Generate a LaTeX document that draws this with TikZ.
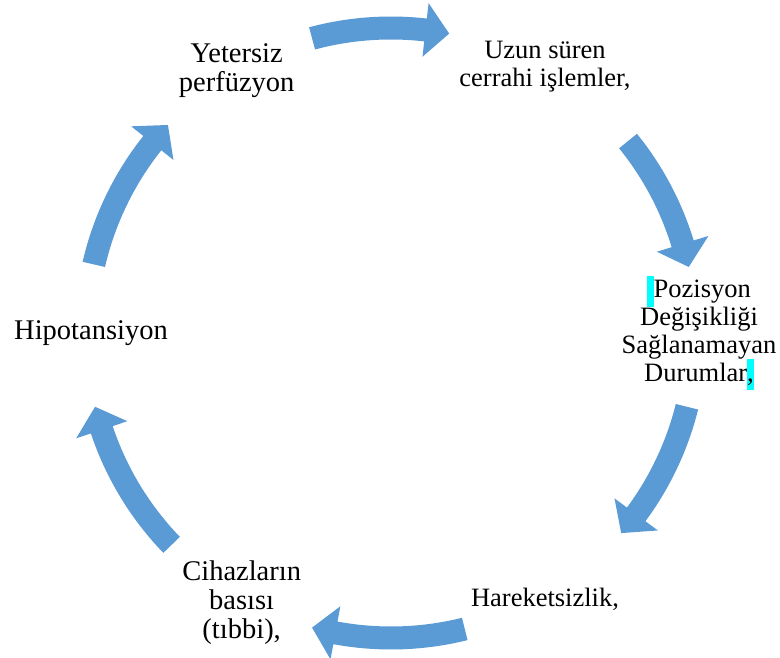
\documentclass[tikz,border=0pt]{standalone}
\usepackage{fontspec}
\setmainfont{Liberation Serif}
\definecolor{azul}{HTML}{5B9BD5}
\definecolor{ciano}{HTML}{00FFFF}
\newcommand{\realce}[1]{{\setlength{\fboxsep}{0pt}\colorbox{ciano}{\rule[-9pt]{0pt}{31pt}#1}}}
\tikzset{
	rotulo/.style={align=center,inner sep=0pt,font=\fontsize{26.5}{27.9}\selectfont},
	rotulo maior/.style={rotulo,font=\fontsize{28.5}{29}\selectfont},
	seta/.style={fill=azul}
}

\begin{document}
\begin{tikzpicture}[x=1pt,y=1pt]
	\useasboundingbox (0,0) rectangle (780,658);
	\coordinate (centro) at (391,325);
	\begin{scope}[shift={(centro)}]
	%rotulos
	\node[rotulo maior] (yetersiz) at (120.5:304) {Yetersiz\\perfüzyon};
	\node[rotulo] (uzun) at (60:308) {Uzun süren\\cerrahi işlemler,};
	\node[rotulo] (pozisyon) at (0:308) {\realce{\hspace{0.25em}}Pozisyon\\Değişikliği\\Sağlanamayan\\Durumlar\realce{,}};
	\node[rotulo] (hareket) at (-60:308) {Hareketsizlik,};
	\node[rotulo maior] (cihaz) at (-119:308) {Cihazların\\basısı\\(tıbbi),};
	\node[rotulo maior] (hipo) at (180:300) {Hipotansiyon};
	%setas
	\foreach \a/\b in {105/79,39/12.5,-14/-41,-76/-105,-136/-166,167/137}{
		\pgfmathsetmacro{\cab}{\b+4.5}
		\fill[seta] (\a:316.5) arc[start angle=\a,end angle=\cab,radius=316.5]
			-- (\cab:332) -- (\b:305) -- (\cab:278) -- (\cab:293.5)
			arc[start angle=\cab,end angle=\a,radius=293.5] -- cycle;
	}
	\end{scope}
\end{tikzpicture}
\end{document}
